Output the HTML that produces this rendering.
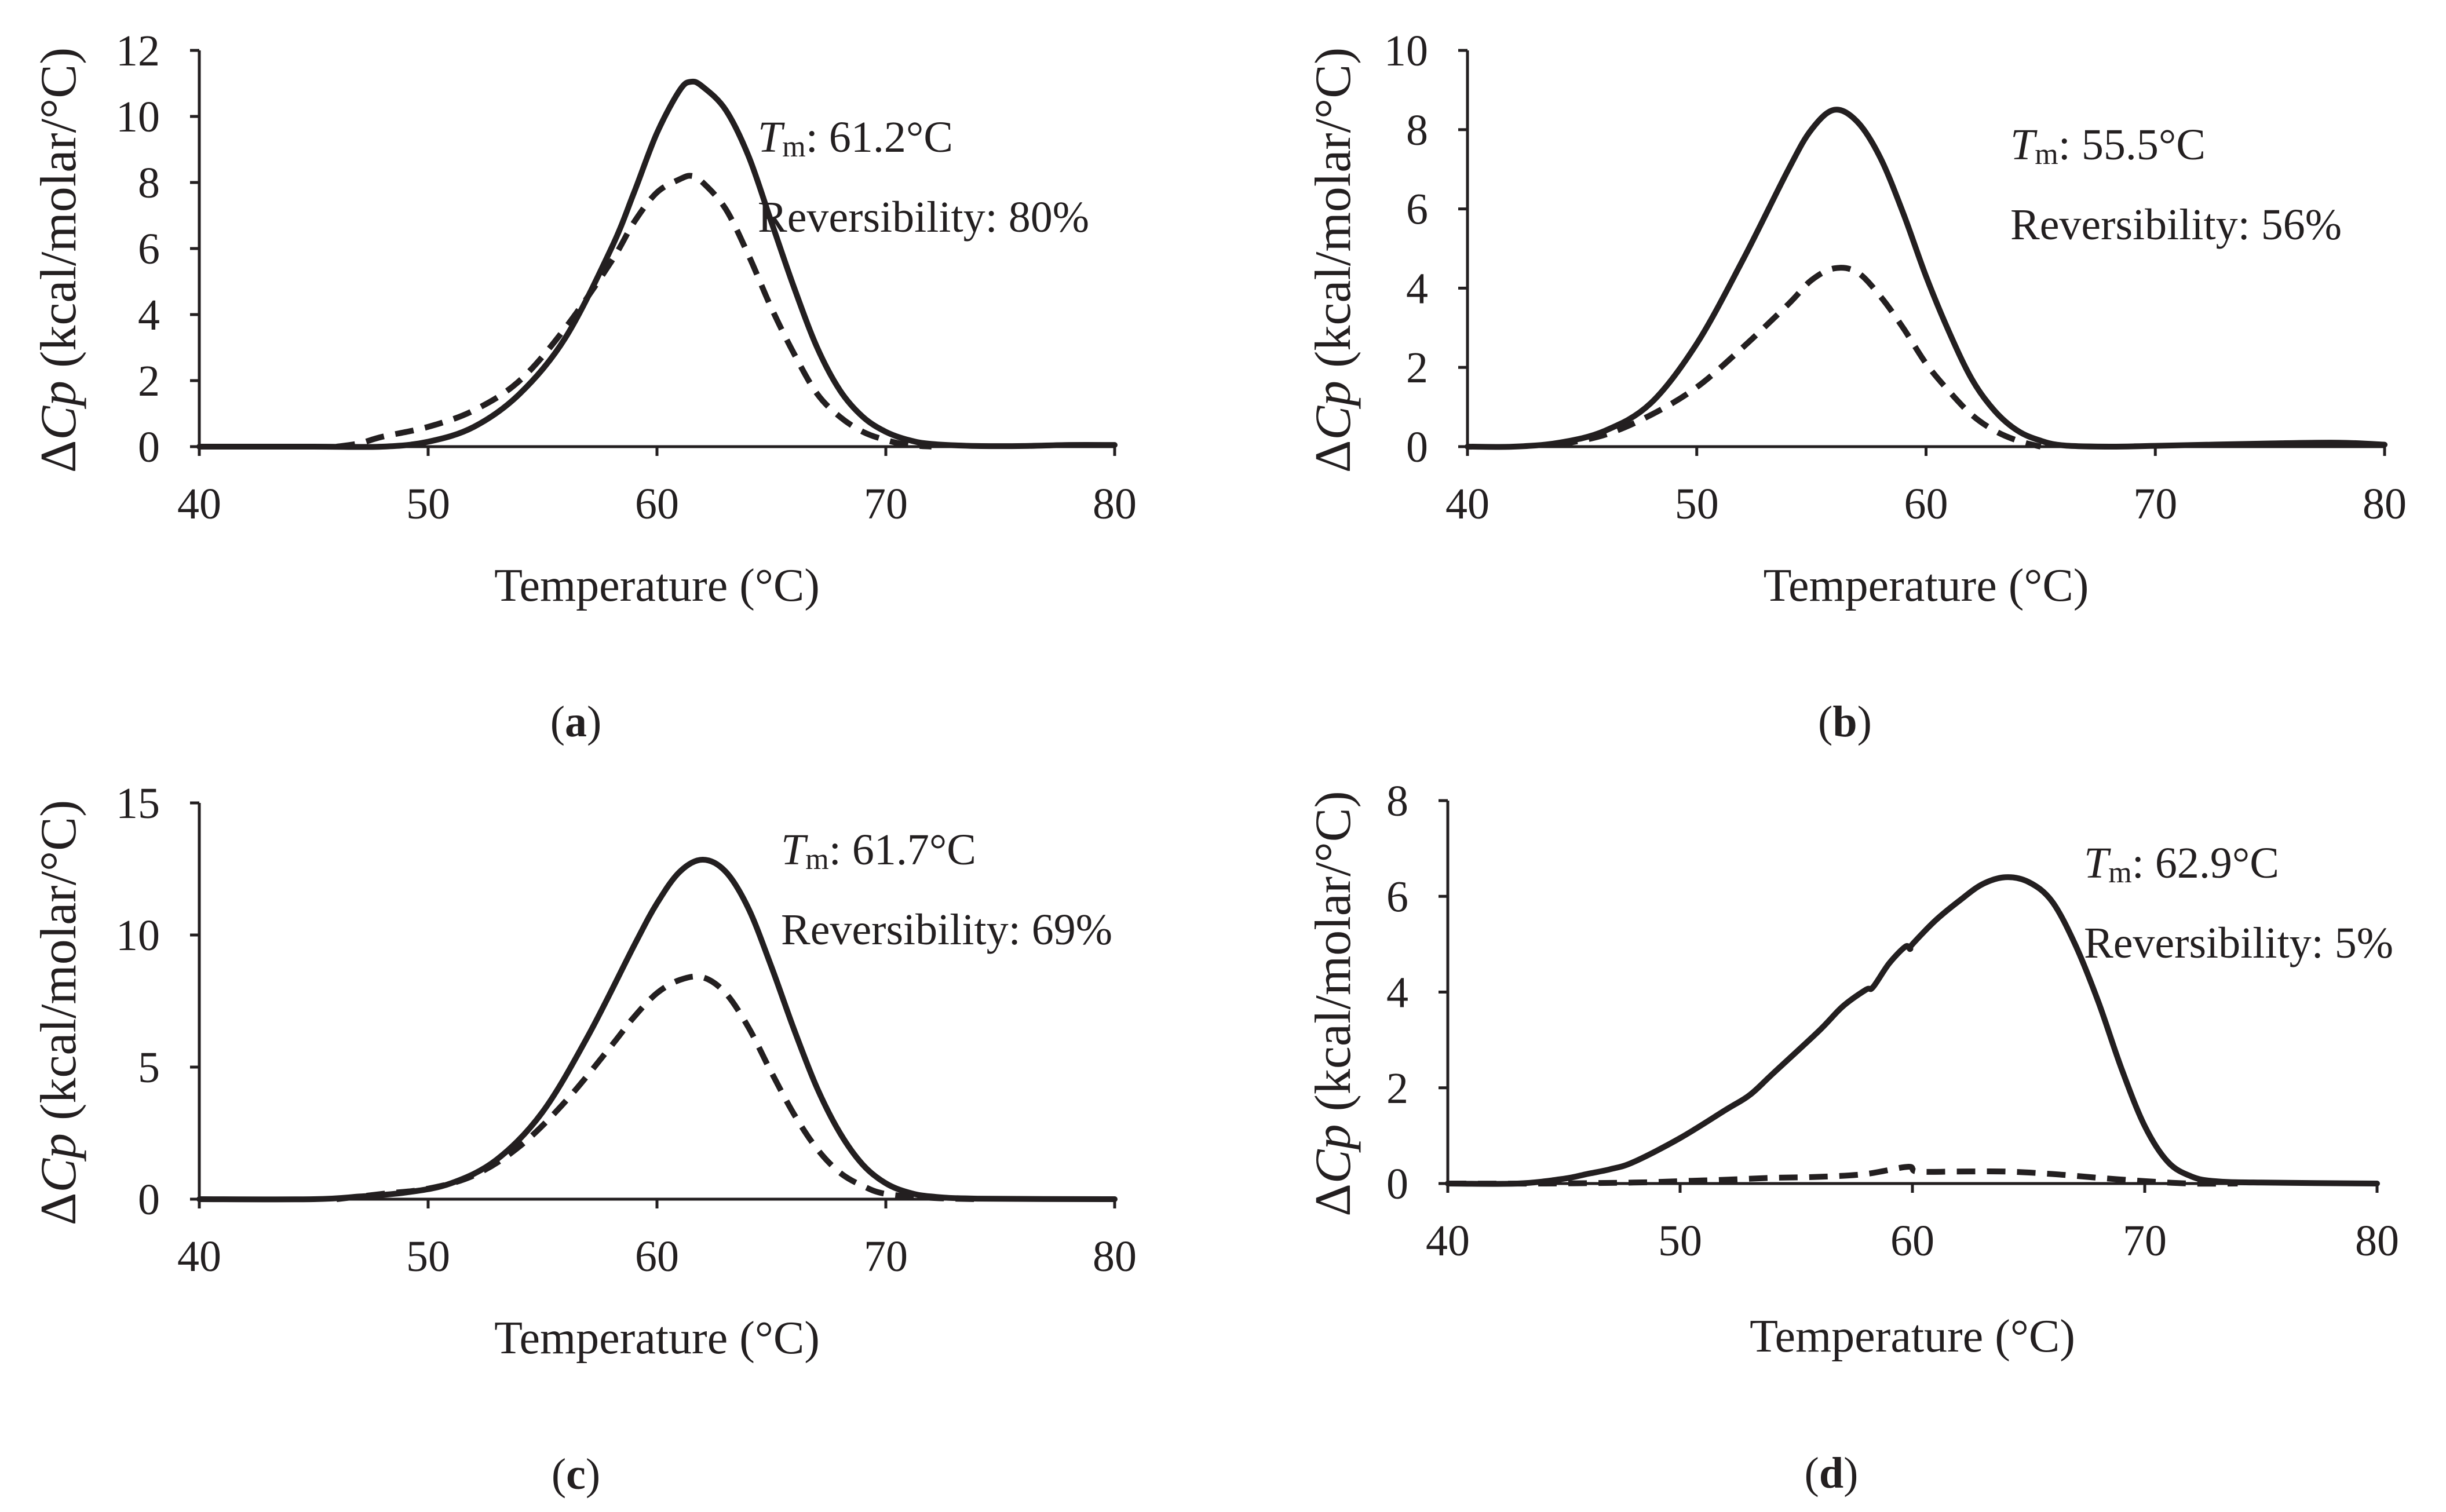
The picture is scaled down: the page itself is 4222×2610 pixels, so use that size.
<!DOCTYPE html>
<html><head><meta charset="utf-8"><style>
html,body{margin:0;padding:0;background:#fff}
svg{display:block}
text{font-family:"Liberation Serif",serif;fill:#231f20}
</style></head><body>
<svg id="fig" width="4222" height="2610" viewBox="0 0 4222 2610" xmlns="http://www.w3.org/2000/svg"></svg>
<script>
// Panel (a)
const aSolidX=[40,45,48,50,52,54,56,58,59,60,61,61.5,62,63,64,65,66,67,68,69,70,71,72,74,76,78,80];
const aSolidY=[0,0,0,0.15,0.6,1.6,3.3,6.0,7.7,9.5,10.8,11.05,10.9,10.2,8.8,6.8,4.8,3.0,1.7,0.9,0.45,0.2,0.08,0.02,0.02,0.05,0.05];
const aDashX=[46,47,48,50,52,54,56,58,59,60,61,61.5,62,63,64,65,66,67,68,69,70,71,72];
const aDashY=[0,0.1,0.3,0.6,1.1,2.0,3.6,5.6,6.8,7.7,8.1,8.2,8.0,7.2,5.8,4.2,2.8,1.6,0.9,0.45,0.2,0.05,0];
const aYTicks=[0,2,4,6,8,10,12];
// Panel (b)
const bSolidX=[40,42,44,46,48,50,52,54,55,56,57,58,59,60,61,62,63,64,65,66,68,70,75,78,80];
const bSolidY=[0,0,0.1,0.4,1.1,2.6,4.7,7.0,8.0,8.5,8.2,7.3,5.9,4.3,2.9,1.7,0.9,0.4,0.15,0.03,0,0.02,0.08,0.1,0.05];
const bDashX=[44,46,48,50,52,54,55,56,57,58,59,60,61,62,63,64,65];
const bDashY=[0.05,0.3,0.8,1.5,2.5,3.6,4.2,4.5,4.4,3.8,3.0,2.1,1.4,0.8,0.4,0.15,0];
const bYTicks=[0,2,4,6,8,10];
// Panel (c)
const cSolidX=[40,45,47,49,51,53,55,57,59,60,61,62,63,64,65,66,67,68,69,70,71,72,74,80];
const cSolidY=[0,0,0.1,0.25,0.6,1.5,3.3,6.2,9.6,11.2,12.4,12.85,12.4,11.0,8.8,6.4,4.2,2.5,1.3,0.6,0.25,0.1,0.02,0];
const cDashX=[46,48,50,52,54,56,58,59,60,61,62,63,64,65,66,67,68,69,70,72,74];
const cDashY=[0,0.2,0.4,0.9,2.0,3.7,5.8,6.9,7.8,8.3,8.4,7.8,6.5,4.8,3.2,1.9,1.0,0.5,0.2,0.05,0];
const cYTicks=[0,5,10,15];
// Panel (d)
const dSolidX=[40,43,45,46,47,48,50,52,53,54,56,57,58,58.3,59,59.7,59.9,60,61,62,63,64,65,66,67,68,69,70,71,72,73,75,80];
const dSolidY=[0,0,0.1,0.2,0.3,0.45,0.95,1.55,1.85,2.3,3.2,3.7,4.05,4.1,4.6,4.95,4.9,5.0,5.5,5.9,6.25,6.4,6.3,5.9,5.0,3.8,2.4,1.2,0.45,0.15,0.05,0.02,0];
const dDashX=[40,44,48,50,52,54,56,58,59.8,60.2,62,64,66,68,70,72,74];
const dDashY=[0,0,0.02,0.05,0.08,0.12,0.14,0.2,0.35,0.25,0.25,0.25,0.2,0.12,0.05,0,0];
const dYTicks=[0,2,4,6,8];
const xTicks=[40,50,60,70,80];

const NS="http://www.w3.org/2000/svg";
const svg=document.getElementById('fig');
function mk(tag,attrs,parent){const e=document.createElementNS(NS,tag);for(const k in attrs)e.setAttribute(k,attrs[k]);(parent||svg).appendChild(e);return e;}

function smooth(P){
  let d='M'+P[0][0].toFixed(1)+','+P[0][1].toFixed(1);
  for(let i=0;i<P.length-1;i++){
    const p0=P[Math.max(0,i-1)],p1=P[i],p2=P[i+1],p3=P[Math.min(P.length-1,i+2)];
    const c1=[p1[0]+(p2[0]-p0[0])/6,p1[1]+(p2[1]-p0[1])/6];
    const c2=[p2[0]-(p3[0]-p1[0])/6,p2[1]-(p3[1]-p1[1])/6];
    d+=' C'+c1.map(v=>v.toFixed(1)).join(',')+' '+c2.map(v=>v.toFixed(1)).join(',')+' '+p2[0].toFixed(1)+','+p2[1].toFixed(1);
  }
  return d;
}

function panel(p){
  const g=mk('g',{});
  
  
  const ymax=p.yt[p.yt.length-1];
  const sx=v=>p.x0+(v-40)/40*(p.x1-p.x0);
  const sy=v=>p.y0-v/ymax*(p.y0-p.yTop);
  const ya=mk('line',{x1:p.x0,y1:p.yTop,x2:p.x0,y2:p.y0,stroke:'#231f20','stroke-width':5},g);
  
  
  const xa=mk('line',{x1:p.x0-2,y1:p.y0,x2:p.x1,y2:p.y0,stroke:'#231f20','stroke-width':5},g);
  
  
  p.yt.forEach(v=>{
    mk('line',{x1:p.x0-16,y1:sy(v),x2:p.x0,y2:sy(v),stroke:'#231f20','stroke-width':5},g);
    const t=mk('text',{x:p.x0-68,y:sy(v)+26,'text-anchor':'end','font-size':76},g);
    t.textContent=v;
    
    
  });
  xTicks.forEach(v=>{
    mk('line',{x1:sx(v),y1:p.y0,x2:sx(v),y2:p.y0+16,stroke:'#231f20','stroke-width':5},g);
    const t=mk('text',{x:sx(v),y:p.y0+124,'text-anchor':'middle','font-size':76},g);
    t.textContent=v;
    
    
  });
  const pts=(X,Y)=>X.map((x,i)=>[sx(x),sy(Y[i])]);
  const d=mk('path',{d:smooth(pts(p.dx,p.dy)),fill:'none',stroke:'#231f20','stroke-width':10,'stroke-dasharray':'32 20','stroke-linejoin':'round'},g);
  
  
  const s=mk('path',{d:smooth(pts(p.sxs,p.sys)),fill:'none',stroke:'#231f20','stroke-width':10,'stroke-linejoin':'round','stroke-linecap':'round'},g);
  
  
  const cy=(p.y0+p.yTop)/2+20;
  const yt=mk('text',{x:0,y:0,'text-anchor':'middle','font-size':88,transform:`translate(${p.ytx},${cy}) rotate(-90)`},g);
  yt.innerHTML='Δ<tspan font-style="italic">Cp</tspan> (kcal/molar/°C)';
  
  
  const xt=mk('text',{x:(p.x0+p.x1)/2,y:p.y0+p.xto,'text-anchor':'middle','font-size':80},g);
  xt.textContent='Temperature (°C)';
  
  
  const tm=mk('text',{x:p.ax,y:p.ay,'font-size':76},g);
  tm.innerHTML='<tspan font-style="italic">T</tspan><tspan font-size="52" dy="8">m</tspan><tspan dy="-8">: '+p.tm+'°C</tspan>';
  
  
  const rv=mk('text',{x:p.ax,y:p.ay+138,'font-size':76},g);
  rv.textContent='Reversibility: '+p.rev+'%';
  
  
  const lb=mk('text',{x:(p.x0+p.x1)/2-140,y:p.y0+p.lbo,'text-anchor':'middle','font-size':76},g);
  lb.innerHTML='(<tspan font-weight="bold">'+p.id+'</tspan>)';
  
  
}
panel({id:'a',x0:344,x1:1924,y0:771,yTop:87,yt:aYTicks,sxs:aSolidX,sys:aSolidY,dx:aDashX,dy:aDashY,ytx:130,ax:1308,ay:262,tm:'61.2',rev:80,xto:266,lbo:500});
panel({id:'b',x0:2533,x1:4116,y0:771,yTop:87,yt:bYTicks,sxs:bSolidX,sys:bSolidY,dx:bDashX,dy:bDashY,ytx:2330,ax:3470,ay:275,tm:'55.5',rev:56,xto:266,lbo:500});
panel({id:'c',x0:344,x1:1924,y0:2070,yTop:1386,yt:cYTicks,sxs:cSolidX,sys:cSolidY,dx:cDashX,dy:cDashY,ytx:130,ax:1348,ay:1492,tm:'61.7',rev:69,xto:266,lbo:500});
panel({id:'d',x0:2499,x1:4103,y0:2043,yTop:1382,yt:dYTicks,sxs:dSolidX,sys:dSolidY,dx:dDashX,dy:dDashY,ytx:2330,ax:3597,ay:1515,tm:'62.9',rev:5,xto:290,lbo:525});
</script>
</body></html>
